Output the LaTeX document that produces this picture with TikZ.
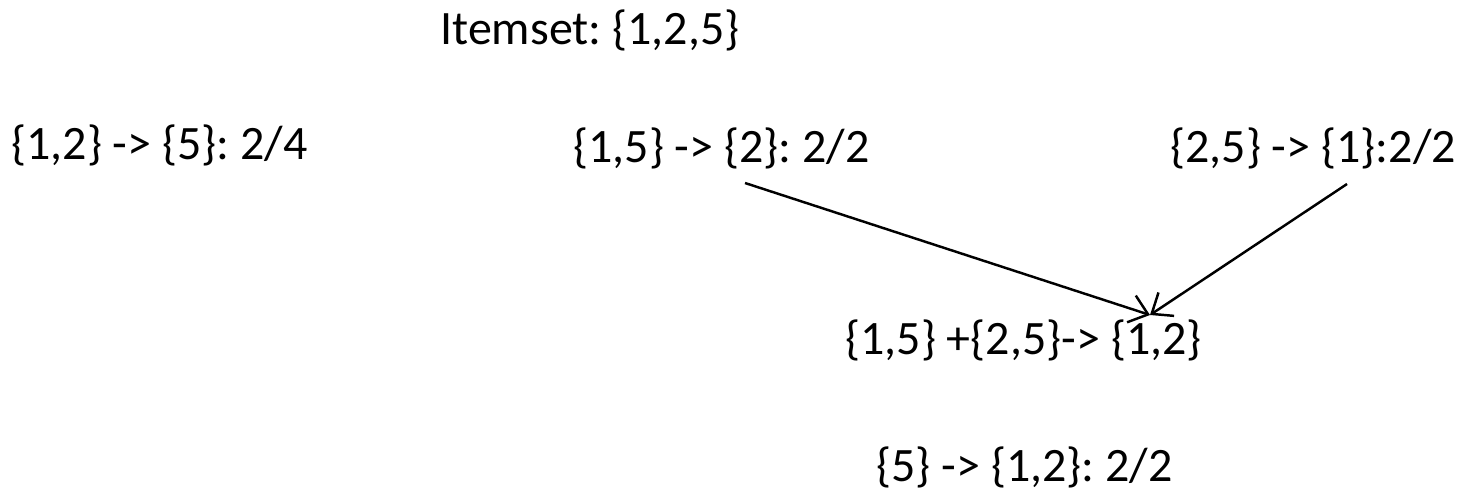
\documentclass[tikz,border=0pt]{standalone}
\usepackage{fontspec}
\setmainfont{Carlito}
\usetikzlibrary{arrows.meta,positioning}

\tikzset{
  rule/.style={anchor=west,inner sep=0pt,font=\fontsize{27.3}{33}\selectfont},
  link/.style={-{Straight Barb[length=10pt,width=16pt,line width=1.4pt]},line width=1.4pt}
}

\begin{document}
\frenchspacing
\begin{tikzpicture}
\useasboundingbox (0,0) rectangle (29.28,9.82);

% Itemset and its rules
\node[rule] (itemset) at (8.80,9.22) {Itemset: \{1,2,5\}};
\node[rule] (r12) at (0.22,6.92) {\{1,2\} -> \{5\}: 2/4};
\node[rule] (r15) at (11.46,6.86) {\{1,5\} -> \{2\}: 2/2};
\node[rule] (r25) at (23.40,6.86) {\{2,5\} -> \{1\}:2/2};

% Merged rule
\node[rule] (merge) at (16.90,3.02) {\{1,5\} +\{2,5\}-> \{1,2\}};
\node[rule] (r5) at (17.52,0.48) {\{5\} -> \{1,2\}: 2/2};

% Arrows
\coordinate (from15) at (14.90,6.16);
\coordinate (from25) at (26.94,6.14);
\coordinate (tip) at (23.00,3.52);
\draw[link] (from15) -- (tip);
\draw[link] (from25) -- (tip);
\end{tikzpicture}
\end{document}
